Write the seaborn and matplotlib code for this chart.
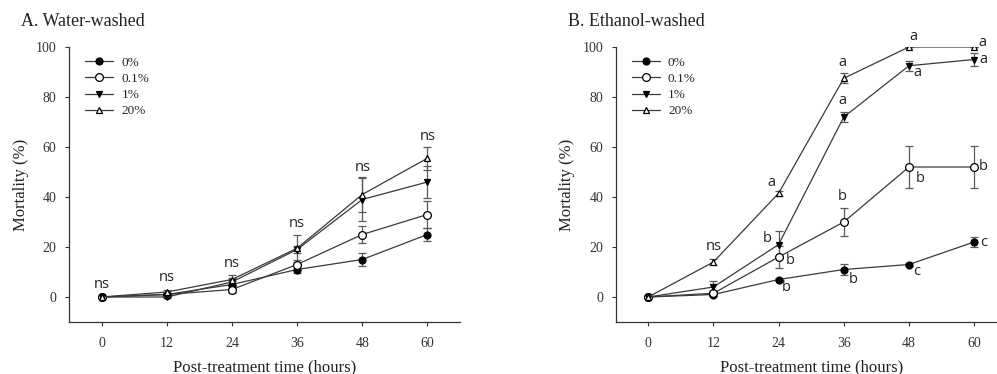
import numpy as np
import pandas as pd
import matplotlib
matplotlib.use("Agg")
import matplotlib.pyplot as plt
import seaborn as sns
from matplotlib.lines import Line2D

# ---------------- data ----------------
time_h = [0, 12, 24, 36, 48, 60]
conc_labels = ["0%", "0.1%", "1%", "20%"]

water_0 = [0, 1, 5, 11, 15, 25]
water_0_err = [0, 0.5, 1.5, 1.5, 2.5, 2.7]
water_01 = [0, 1, 3, 13, 25, 33]
water_01_err = [0, 0.5, 1.5, 2, 3.5, 5.5]
water_1 = [0, 0, 6, 19, 39, 46]
water_1_err = [0, 0.5, 1.5, 1.5, 8.5, 6.5]
water_20 = [0, 2, 7, 19.5, 41, 55.5]
water_20_err = [0, 0.8, 2, 5.5, 7, 4.5]

eth_0 = [0, 1, 7, 11, 13, 22]
eth_0_err = [0, 0.5, 0.5, 2.3, 0.5, 2]
eth_01 = [0, 1.5, 16, 30, 52, 52]
eth_01_err = [0, 1, 4.5, 5.7, 8.5, 8.5]
eth_1 = [0, 4, 21, 72, 92.5, 95]
eth_1_err = [0, 2.5, 5.3, 2, 2, 2.5]
eth_20 = [0, 14, 41.5, 87.5, 100, 100]
eth_20_err = [0, 1.2, 1, 2, 0, 0]

water_letters = ["ns", "ns", "ns", "ns", "ns", "ns"]
water_letter_x = [0, 12, 24, 36, 48, 60]
water_letter_y = [5.2, 7.7, 13.5, 29.5, 51.9, 64.1]

eth_letters = ["ns", "a", "b", "b", "b", "a", "a", "b", "b",
               "a", "a", "b", "c", "a", "a", "b", "c"]
eth_letter_x = [12, 22.6, 21.95, 26.1, 25.4, 35.75, 35.75, 35.75, 37.8,
                48.9, 49.5, 50.0, 49.5, 61.5, 61.8, 61.6, 61.8]
eth_letter_y = [20.1, 45.7, 23.3, 14.4, 3.9, 94.0, 78.7, 40.1, 7.1,
                104.3, 90.0, 47.4, 10.1, 102.0, 95.0, 52.0, 21.8]

# ---------------- style ----------------
sns.set_style("ticks")
plt.rcParams["font.family"] = ["Liberation Serif", "DejaVu Serif"]
SANS = ["Open Sans", "DejaVu Sans"]

LINE_C = "#3a3a3a"
ERR_C = "#5a5a5a"
styles = [
    dict(marker="o", mfc="black", mec="black", ms=5.0),
    dict(marker="o", mfc="white", mec="black", ms=5.6),
    dict(marker="v", mfc="black", mec="black", ms=4.8),
    dict(marker="^", mfc="white", mec="black", ms=4.5),
]

fig = plt.figure(figsize=(9.97, 3.74), dpi=100)
W, H = 997, 374
axA = fig.add_axes([69 / W, (H - 322) / H, 391 / W, 275 / H])
axB = fig.add_axes([615.7 / W, (H - 322) / H, 391 / W, 275 / H])


def draw(ax, series, errs, letters, lx, ly, title, title_x, leg_x):
    for vals, err, st, lab in zip(series, errs, styles, conc_labels):
        df = pd.DataFrame({"t": time_h, "m": vals})
        ax.errorbar(time_h, vals, yerr=err, fmt="none", ecolor=ERR_C,
                    elinewidth=0.9, capsize=2.8, capthick=0.9, zorder=2)
        sns.lineplot(data=df, x="t", y="m", ax=ax, color=LINE_C, lw=0.9,
                     marker=st["marker"], markerfacecolor=st["mfc"],
                     markeredgecolor=st["mec"], markersize=st["ms"],
                     markeredgewidth=0.9, zorder=3, legend=False)
    for t, x, y in zip(letters, lx, ly):
        ax.text(x, y, t, ha="center", va="center", fontsize=10.5,
                family=SANS, color="#222222")
    ax.set_xlim(-6, 66)
    ax.set_ylim(-10, 100)
    ax.set_xticks(time_h)
    ax.set_yticks([0, 20, 40, 60, 80, 100])
    ax.tick_params(axis="both", direction="out", length=3, width=0.8,
                   labelsize=10, colors="#333333")
    ax.tick_params(axis="x", pad=8)
    ax.tick_params(axis="y", pad=6)
    for s in ["top", "right"]:
        ax.spines[s].set_visible(False)
    for s in ["left", "bottom"]:
        ax.spines[s].set_linewidth(0.9)
        ax.spines[s].set_color("#333333")
    ax.set_xlabel("Post-treatment time (hours)", fontsize=12, color="#222222")
    ax.set_ylabel("Mortality (%)", fontsize=12, color="#222222")
    ax.xaxis.set_label_coords(0.5, -0.164)
    ax.xaxis.label.set_va("center")
    ax.yaxis.set_label_coords(-0.124, 0.5)
    ax.yaxis.label.set_va("center")
    fig.text(title_x / W, 1 - 22 / H, title, fontsize=13, ha="left",
             va="center", color="#222222")
    handles = [Line2D([0], [0], color=LINE_C, lw=0.9, marker=st["marker"],
                      markerfacecolor=st["mfc"], markeredgecolor=st["mec"],
                      markersize=st["ms"], markeredgewidth=0.9)
               for st in styles]
    ax.legend(handles, conc_labels, loc="upper left",
              bbox_to_anchor=(leg_x, 0.965), frameon=False, fontsize=9.5,
              handlelength=2.15, handletextpad=0.6, labelspacing=0.3,
              borderpad=0, borderaxespad=0)


draw(axA, [water_0, water_01, water_1, water_20],
     [water_0_err, water_01_err, water_1_err, water_20_err],
     water_letters, water_letter_x, water_letter_y,
     "A. Water-washed", 21, (85 - 69) / 391)
draw(axB, [eth_0, eth_01, eth_1, eth_20],
     [eth_0_err, eth_01_err, eth_1_err, eth_20_err],
     eth_letters, eth_letter_x, eth_letter_y,
     "B. Ethanol-washed", 567.7, (631.7 - 615.7) / 391)

fig.savefig("out.png", dpi=100)
